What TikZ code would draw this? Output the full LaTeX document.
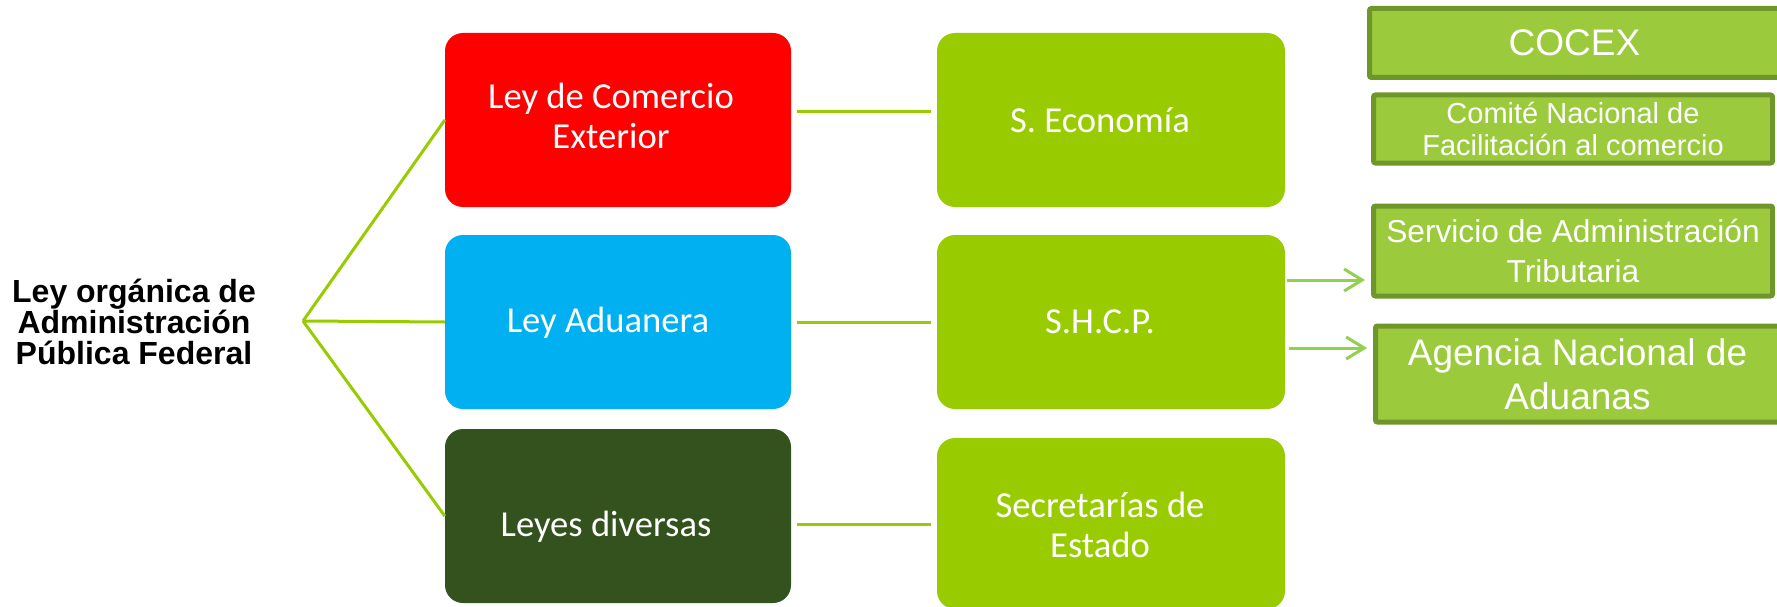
\documentclass[tikz,border=0pt]{standalone}
\usepackage{fontspec}
\setmainfont{Liberation Sans}
\newfontfamily\calfont{Carlito}
\usetikzlibrary{arrows.meta,calc}
\definecolor{lawred}{HTML}{FF0000}
\definecolor{lawblue}{HTML}{00B0F0}
\definecolor{lawdark}{HTML}{33521E}
\definecolor{secgreen}{HTML}{99CC00}
\definecolor{agfill}{HTML}{9BCB3C}
\definecolor{agborder}{HTML}{6F962A}
\definecolor{arrgreen}{HTML}{92D050}
\begin{document}
\begin{tikzpicture}[x=1pt,y=-1pt,
  lawbox/.style={rectangle, rounded corners=18pt, draw=none, minimum width=346pt, minimum height=174pt, inner sep=0pt},
  secbox/.style={lawbox, fill=secgreen, minimum width=348pt},
  lawtxt/.style={text=white, font=\calfont\fontsize{36.6}{40}\selectfont, align=center, inner sep=0pt},
  agbox/.style={rectangle, rounded corners=2pt, fill=agfill, draw=agborder, line width=5pt, inner sep=0pt, text=white, align=center},
  conn/.style={draw=secgreen, line width=3pt},
  arr/.style={draw=arrgreen, line width=3pt, -{Straight Barb[length=18pt,width=22pt]}}
]
\useasboundingbox (0,0) rectangle (1777,607);
\fill[white] (0,0) rectangle (1777,607);
\clip (0,0) rectangle (1777,607);

% left label
\node[font=\bfseries\fontsize{32}{31}\selectfont, align=center, inner sep=0pt] (loapf) at (134,322) {Ley orgánica de\\Administración\\Pública Federal};
\coordinate (apex) at (303,321);

% law boxes
\node[lawbox, fill=lawred] (red) at (618,120) {};
\node[lawbox, fill=lawblue] (blue) at (618,322) {};
\node[lawbox, fill=lawdark] (dark) at (618,516) {};
\node[lawtxt] (redt) at (611,116) {Ley de Comercio\\Exterior};
\node[lawtxt] (bluet) at (608,323) {Ley Aduanera};
\node[lawtxt] (darkt) at (606,527) {Leyes diversas};

% secretariat boxes
\node[secbox] (econ) at (1111,120) {};
\node[secbox] (shcp) at (1111,322) {};
\node[secbox, minimum height=171pt] (secr) at (1111,523.5) {};
\node[lawtxt] (econt) at (1100,120) {S. Economía};
\node[lawtxt] (shcpt) at (1100,322) {S.H.C.P.};
\node[lawtxt] (secrt) at (1100,525) {Secretarías de\\Estado};

% agencies
\node[agbox, minimum width=410pt, minimum height=69pt, font=\fontsize{37}{42}\selectfont] (cocex) at (1574.5,43) {COCEX};
\node[agbox, minimum width=399pt, minimum height=68pt, font=\fontsize{29}{32}\selectfont] (comite) at (1573,129) {Comité Nacional de\\Facilitación al comercio};
\node[agbox, minimum width=399pt, minimum height=90pt, font=\fontsize{31.7}{40}\selectfont] (serv) at (1573,251) {Servicio de Administración\\Tributaria};
\node[agbox, minimum width=404pt, minimum height=96pt, font=\fontsize{37}{44}\selectfont] (anam) at (1577.5,374) {Agencia Nacional de\\Aduanas};

% connectors
\draw[conn] (apex) -- (red.west);
\draw[conn] (apex) -- (blue.west);
\draw[conn] (apex) -- (dark.west);
\draw[conn] ([xshift=6pt,yshift=8pt]red.east) -- ([xshift=-6pt,yshift=8pt]econ.west);
\draw[conn] ([xshift=6pt]blue.east) -- ([xshift=-6pt]shcp.west);
\draw[conn] ([xshift=6pt,yshift=-8pt]dark.east) -- ($(dark.east -| secr.west)+(-6,8)$);
\draw[arr] ([xshift=2pt,yshift=42pt]shcp.east) -- ($(shcp.east -| serv.west)+(-6,-42)$);
\draw[arr] ([xshift=4pt,yshift=-26pt]shcp.east) -- ($(shcp.east -| anam.west)+(-6,26)$);
\end{tikzpicture}
\end{document}
